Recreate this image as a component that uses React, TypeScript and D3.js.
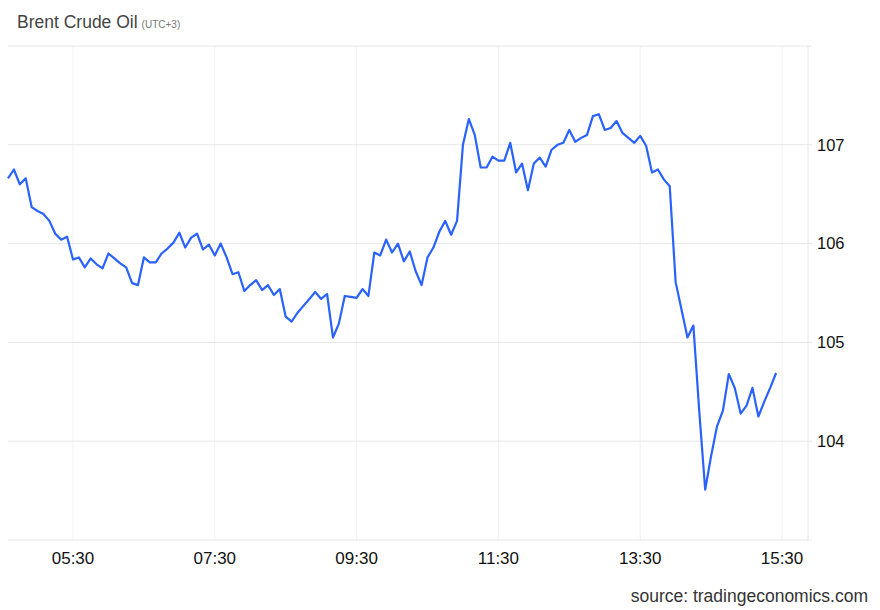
import React, { useEffect, useRef } from 'react';
import * as d3 from 'd3';

// Brent crude, 5-minute closes from 04:35 (UTC+3)
const startTime = '2022-05-10T04:35';
const stepMinutes = 5;
const prices = [
  106.66, 106.75, 106.6, 106.66, 106.37, 106.33, 106.3, 106.23, 106.1, 106.04,
  106.07, 105.84, 105.86, 105.76, 105.85, 105.79, 105.75, 105.9, 105.85, 105.8,
  105.76, 105.6, 105.58, 105.86, 105.81, 105.81, 105.9, 105.95, 106.01, 106.11,
  105.96, 106.06, 106.1, 105.94, 105.99, 105.88, 106.0, 105.86, 105.69, 105.71,
  105.52, 105.58, 105.63, 105.53, 105.58, 105.48, 105.54, 105.26, 105.21, 105.3,
  105.37, 105.44, 105.51, 105.44, 105.49, 105.05, 105.19, 105.47, 105.46, 105.45,
  105.54, 105.47, 105.91, 105.88, 106.04, 105.91, 106.0, 105.82, 105.92, 105.72,
  105.58, 105.86, 105.96, 106.12, 106.23, 106.09, 106.23, 107.0, 107.26, 107.1,
  106.77, 106.77, 106.88, 106.84, 106.84, 107.02, 106.72, 106.81, 106.54, 106.81,
  106.87, 106.78, 106.95, 107.0, 107.02, 107.15, 107.03, 107.07, 107.1, 107.29,
  107.31, 107.15, 107.17, 107.24, 107.12, 107.07, 107.02, 107.09, 106.99, 106.72,
  106.75, 106.65, 106.58, 105.61, 105.33, 105.05, 105.17, 104.3, 103.51, 103.85,
  104.15, 104.31, 104.68, 104.54, 104.28, 104.36, 104.54, 104.25, 104.4, 104.54,
  104.69,
];
const xTicks = ['05:30', '07:30', '09:30', '11:30', '13:30', '15:30'];
const yTicks = [104, 105, 106, 107];
const xRange = ['2022-05-10T04:35', '2022-05-10T15:52'];
const yRange = [103, 108];

const App = () => {
  const ref = useRef<SVGSVGElement>(null);

  useEffect(() => {
    const svg = d3.select(ref.current);
    svg.selectAll('*').remove();

    const width = 880;
    const height = 610;
    const margin = { top: 46, right: 72, bottom: 70, left: 8 };
    const parse = d3.timeParse('%Y-%m-%dT%H:%M');
    const start = parse(startTime);

    const data = prices.map((p, i) => ({
      t: d3.timeMinute.offset(start, i * stepMinutes),
      v: p,
    }));

    const x = d3.scaleTime()
      .domain(xRange.map(s => parse(s)))
      .range([margin.left, width - margin.right]);

    const y = d3.scaleLinear()
      .domain(yRange)
      .range([height - margin.bottom, margin.top]);

    const tickTimes = xTicks.map(s => parse(`2022-05-10T${s}`));
    const font = "'Liberation Sans', Arial, sans-serif";

    // vertical grid
    svg.append('g')
      .selectAll('line')
      .data(tickTimes)
      .join('line')
      .attr('x1', d => x(d)).attr('x2', d => x(d))
      .attr('y1', margin.top).attr('y2', height - margin.bottom)
      .attr('stroke', '#eef2f5');

    // horizontal grid
    svg.append('g')
      .selectAll('line')
      .data(yTicks)
      .join('line')
      .attr('x1', margin.left).attr('x2', width - margin.right + 4)
      .attr('y1', d => y(d)).attr('y2', d => y(d))
      .attr('stroke', '#e6e6e6');

    // frame: top, bottom, right axis
    svg.append('line')
      .attr('x1', margin.left).attr('x2', width - margin.right + 4)
      .attr('y1', margin.top).attr('y2', margin.top)
      .attr('stroke', '#e6e6e6');
    svg.append('line')
      .attr('x1', margin.left).attr('x2', width - margin.right + 4)
      .attr('y1', height - margin.bottom).attr('y2', height - margin.bottom)
      .attr('stroke', '#e6e6e6');
    svg.append('line')
      .attr('x1', width - margin.right).attr('x2', width - margin.right)
      .attr('y1', margin.top).attr('y2', height - margin.bottom)
      .attr('stroke', '#e6e6e6');

    // y labels on the right
    svg.append('g')
      .selectAll('text')
      .data(yTicks)
      .join('text')
      .attr('x', width - margin.right + 9)
      .attr('y', d => y(d))
      .attr('dy', '0.35em')
      .style('font-family', font)
      .style('font-size', '16.5px')
      .attr('fill', '#111')
      .text(d => d);

    // x labels
    svg.append('g')
      .selectAll('text')
      .data(tickTimes)
      .join('text')
      .attr('x', d => x(d))
      .attr('y', height - margin.bottom + 24)
      .attr('text-anchor', 'middle')
      .style('font-family', font)
      .style('font-size', '17px')
      .attr('fill', '#111')
      .text(d => d3.timeFormat('%H:%M')(d));

    // the line
    const line = d3.line<{ t: Date; v: number }>()
      .x(d => x(d.t))
      .y(d => y(d.v));

    svg.append('path')
      .datum(data)
      .attr('d', line)
      .attr('fill', 'none')
      .attr('stroke', '#2962ff')
      .attr('stroke-width', 2.2)
      .attr('stroke-linejoin', 'round');

    // title
    const title = svg.append('text')
      .attr('x', 17)
      .attr('y', 28)
      .style('font-family', font)
      .attr('fill', '#444');
    title.append('tspan').style('font-size', '17.5px').text('Brent Crude Oil');
    title.append('tspan').attr('dx', 4).style('font-size', '10px').attr('fill', '#777').text('(UTC+3)');

    // source
    svg.append('text')
      .attr('x', 868)
      .attr('y', 602)
      .attr('text-anchor', 'end')
      .style('font-family', font)
      .style('font-size', '17.5px')
      .attr('fill', '#333')
      .text('source: tradingeconomics.com');
  }, []);

  return (
    <svg
      ref={ref}
      width={880}
      height={610}
      style={{ position: 'absolute', left: 0, top: 0, background: '#fff' }}
    />
  );
};

export default App;
